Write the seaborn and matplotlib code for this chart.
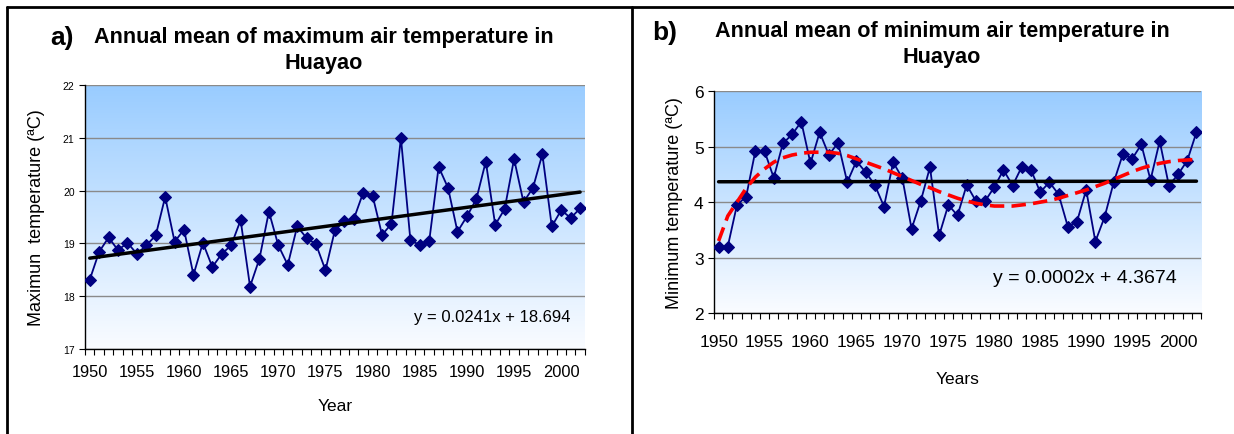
import numpy as np
import matplotlib
matplotlib.use("Agg")
import matplotlib.pyplot as plt
import seaborn as sns
from matplotlib.lines import Line2D

# Data
years = list(range(1950, 2003))
tmax = [18.31, 18.84, 19.11, 18.87, 19.01, 18.80, 18.96, 19.15, 19.88, 19.03,
        19.26, 18.40, 19.01, 18.55, 18.80, 18.96, 19.44, 18.18, 18.71, 19.60,
        18.96, 18.59, 19.32, 19.10, 18.98, 18.49, 19.25, 19.42, 19.46, 19.96,
        19.90, 19.16, 19.37, 21.00, 19.07, 18.96, 19.04, 20.45, 20.05, 19.22,
        19.51, 19.84, 20.55, 19.35, 19.65, 20.60, 19.78, 20.05, 20.69, 19.32,
        19.63, 19.48, 19.66]
tmin = [3.20, 3.20, 3.95, 4.10, 4.92, 4.92, 4.44, 5.06, 5.22, 5.45,
        4.70, 5.26, 4.85, 5.07, 4.36, 4.74, 4.54, 4.31, 3.92, 4.72,
        4.43, 3.52, 4.02, 4.63, 3.40, 3.95, 3.76, 4.31, 4.02, 4.02,
        4.27, 4.58, 4.30, 4.64, 4.58, 4.18, 4.36, 4.14, 3.56, 3.65,
        4.22, 3.29, 3.73, 4.36, 4.87, 4.78, 5.04, 4.40, 5.10, 4.30,
        4.50, 4.75, 5.26]
# red dashed trend curve of panel b, read year by year
tmin_curve = [3.30, 3.75, 4.00, 4.25, 4.45, 4.60, 4.72, 4.80, 4.85, 4.88,
              4.90, 4.90, 4.90, 4.88, 4.84, 4.78, 4.72, 4.66, 4.60, 4.53,
              4.46, 4.39, 4.32, 4.26, 4.19, 4.13, 4.07, 4.02, 3.98, 3.95,
              3.93, 3.93, 3.93, 3.95, 3.97, 4.00, 4.03, 4.07, 4.12, 4.17,
              4.22, 4.28, 4.34, 4.41, 4.48, 4.55, 4.61, 4.66, 4.70, 4.73,
              4.75, 4.76, 4.77]
tmax_fit = (0.0241, 18.694)
tmin_fit = (0.0002, 4.3674)
year_labels = list(range(1950, 2001, 5))

navy = "#000080"

sns.set_style("ticks")
plt.rcParams['font.family'] = ['Liberation Sans', 'DejaVu Sans']
for key in ['text.color', 'axes.labelcolor', 'xtick.color', 'ytick.color']:
    plt.rcParams[key] = 'black'

fig = plt.figure(figsize=(12.34, 4.35), dpi=100)
ax1 = fig.add_axes([0.0689, 0.196, 0.405, 0.606])
ax2 = fig.add_axes([0.5786, 0.278, 0.3947, 0.510])


def paint_background(ax):
    t = np.linspace(0, 1, 256)[:, None, None]
    top = np.array([153, 204, 255]) / 255
    bottom = np.array([250, 252, 255]) / 255
    img = top * (1 - t) + bottom * t
    ax.imshow(img, extent=[0, 1, 0, 1], transform=ax.transAxes,
              aspect='auto', zorder=0)


def style_axis(ax, ylo, yhi, ytick_size, xtick_size, xpad):
    ax.set_xlim(1949.5, 2002.5)
    ax.set_ylim(ylo, yhi)
    ax.set_yticks(range(ylo, yhi + 1))
    ax.set_xticks(year_labels)
    ax.set_xticks(np.arange(1949.5, 2003, 1), minor=True)
    ax.yaxis.grid(True, color="#8a8a8a", linewidth=1.0)
    ax.set_axisbelow(True)
    for side in ["top", "right"]:
        ax.spines[side].set_visible(False)
    for side in ["left", "bottom"]:
        ax.spines[side].set_color("black")
        ax.spines[side].set_linewidth(1.0)
    ax.tick_params(axis='x', which='major', length=0, pad=xpad, labelsize=xtick_size)
    ax.tick_params(axis='x', which='minor', length=4, width=0.8, direction='out')
    ax.tick_params(axis='y', which='major', length=4, width=0.8, direction='out',
                   labelsize=ytick_size)


idx = np.arange(1, len(years) + 1)

# a) maximum temperature
paint_background(ax1)
sns.lineplot(x=years, y=tmax, ax=ax1, color=navy, linewidth=1.3, marker='D',
             markersize=6, markeredgecolor=navy, zorder=3)
sns.lineplot(x=years, y=tmax_fit[0] * idx + tmax_fit[1], ax=ax1, color='black',
             linewidth=2.5, zorder=4)
style_axis(ax1, 17, 22, 7.5, 11.8, 11)
ax1.set_xlabel("Year", fontsize=12.5, labelpad=14)
ax1.set_ylabel("Maximun  temperature (ªC)", fontsize=13, labelpad=13)
ax1.text(0.814, 0.121, "y = 0.0241x + 18.694", transform=ax1.transAxes,
         ha='center', va='center', fontsize=12)

# b) minimum temperature
paint_background(ax2)
sns.lineplot(x=years, y=tmin, ax=ax2, color=navy, linewidth=1.3, marker='D',
             markersize=6, markeredgecolor=navy, zorder=3)
sns.lineplot(x=years, y=tmin_fit[0] * idx + tmin_fit[1], ax=ax2, color='black',
             linewidth=2.5, zorder=4)
ax2.plot(years, tmin_curve, color='red', linewidth=2.6,
         linestyle=(0, (4, 2)), zorder=5)
style_axis(ax2, 2, 6, 12.5, 12.5, 15)
ax2.set_xlabel("Years", fontsize=12.5, labelpad=16)
ax2.set_ylabel("Minimum temperature (ªC)", fontsize=13, labelpad=8)
ax2.text(0.762, 0.162, "y = 0.0002x + 4.3674", transform=ax2.transAxes,
         ha='center', va='center', fontsize=14)

# titles
W, H = 1234, 435
title_style = dict(fontsize=15.6, fontweight='bold', ha='center', va='center')
fig.text(62 / W, 1 - 38 / H, "a)", fontsize=19, fontweight='bold',
         ha='center', va='center')
fig.text(324 / W, 1 - 38 / H, "Annual mean of maximum air temperature in", **title_style)
fig.text(324 / W, 1 - 63 / H, "Huayao", **title_style)
fig.text(665 / W, 1 - 33 / H, "b)", fontsize=19, fontweight='bold',
         ha='center', va='center')
fig.text(942 / W, 1 - 31 / H, "Annual mean of minimum air temperature in", **title_style)
fig.text(942 / W, 1 - 58 / H, "Huayao", **title_style)

# panel frame
frame = dict(color='black', linewidth=2, transform=fig.transFigure)
fig.add_artist(Line2D([7 / W, 1], [1 - 8 / H, 1 - 8 / H], **frame))
fig.add_artist(Line2D([7 / W, 7 / W], [0, 1 - 8 / H], **frame))
fig.add_artist(Line2D([632 / W, 632 / W], [0, 1 - 8 / H], **frame))

fig.savefig("out.png", dpi=100)
